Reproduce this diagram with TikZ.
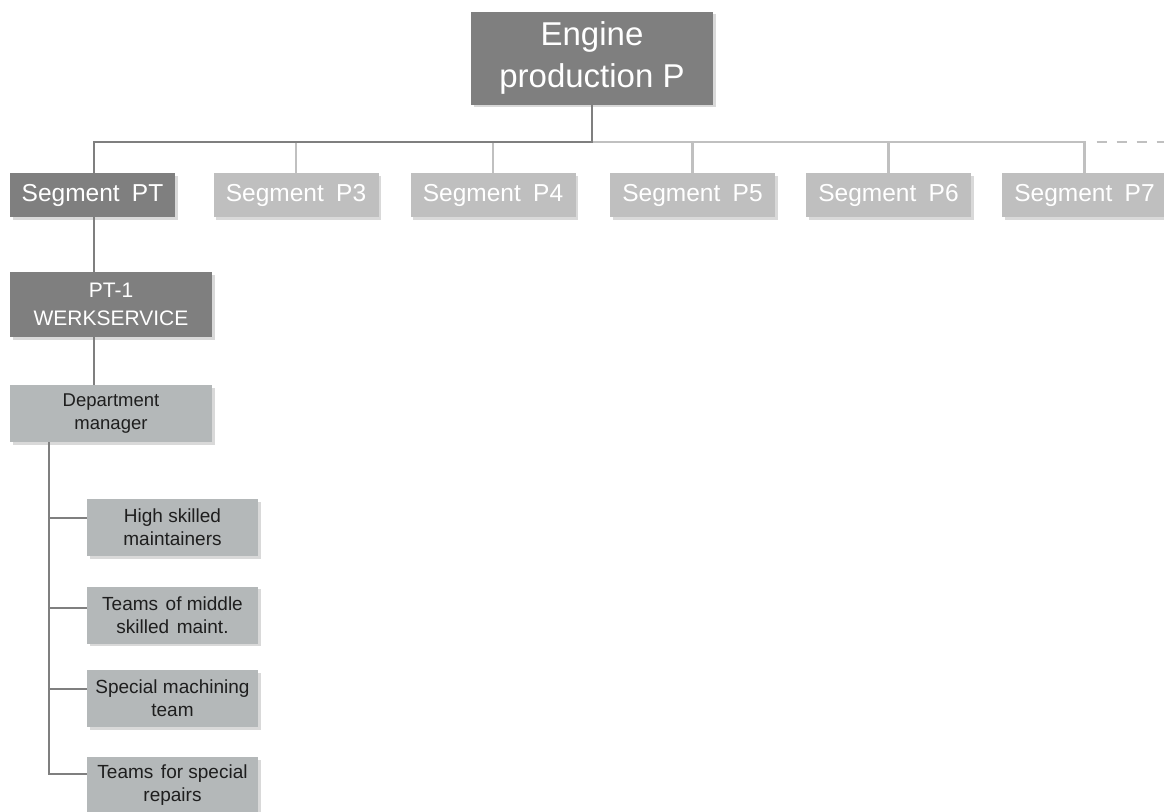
\documentclass[tikz,border=0pt]{standalone}
\usepackage{fontspec}
\setmainfont{Liberation Sans}
\usetikzlibrary{shadows}
\definecolor{boxdark}{HTML}{7F7F7F}
\definecolor{boxlight}{HTML}{BFBFBF}
\definecolor{boxteam}{HTML}{B4B8B9}
\definecolor{linedark}{HTML}{7F7F7F}
\definecolor{linelight}{HTML}{C0C0C0}
\definecolor{teamtext}{HTML}{1E1E1E}
\newcommand\wsp{\hspace{0.5em}}
\newcommand\tsp{\hspace{0.4em}}
\begin{document}
\begin{tikzpicture}[x=1pt,y=-1pt,
  box/.style={inner sep=0pt, align=center,
    drop shadow={shadow xshift=2.5pt, shadow yshift=-2.5pt, opacity=0.3}},
  topbox/.style={box, fill=boxdark, text=white, minimum width=242pt,
    minimum height=93pt, font=\fontsize{33}{42}\selectfont},
  segdark/.style={box, fill=boxdark, text=white, minimum width=165pt,
    minimum height=44pt, font=\fontsize{24.5}{28}\selectfont},
  seglight/.style={segdark, fill=boxlight},
  unitbox/.style={box, fill=boxdark, text=white, minimum width=202pt,
    minimum height=65pt, font=\fontsize{21}{28}\selectfont},
  mgrbox/.style={box, fill=boxteam, text=teamtext, minimum width=202pt,
    minimum height=57pt, font=\fontsize{18.5}{23}\selectfont},
  teambox/.style={box, fill=boxteam, text=teamtext, minimum width=171pt,
    minimum height=57pt, font=\fontsize{19}{23}\selectfont},
  darkline/.style={draw=linedark, line width=2.7pt},
  lightline/.style={draw=linelight, line width=2.7pt},
]
\clip (0,0) rectangle (1164,811);

% boxes
\node[topbox]   (top)  at (592,58)     {Engine\\production P};
\node[segdark]  (pt)   at (92.5,195)   {Segment\wsp PT};
\node[seglight] (p3)   at (296,195)    {Segment\wsp P3};
\node[seglight] (p4)   at (493,195)    {Segment\wsp P4};
\node[seglight] (p5)   at (692.5,195)  {Segment\wsp P5};
\node[seglight] (p6)   at (888.5,195)  {Segment\wsp P6};
\node[seglight] (p7)   at (1084.5,195) {Segment\wsp P7};
\node[unitbox]  (pt1)  at (111,304.5)  {PT-1\\WERKSERVICE};
\node[mgrbox]   (dept) at (111,413.5)  {Department\\manager};
\node[teambox]  (high)    at (172.5,527.5) {High skilled\\maintainers};
\node[teambox]  (middle)  at (172.5,615)   {Teams\tsp of middle\\skilled\tsp maint.};
\node[teambox]  (machine) at (172.5,698.5) {Special machining\\team};
\node[teambox]  (repairs) at (172.5,785.5) {Teams\tsp for special\\repairs};

% bus joining the segments
\coordinate (bus) at (592,142);
\coordinate (busend) at (1164,142);
\draw[lightline] (bus) -- (bus -| p7.north) -- (p7.north);
\foreach \s in {p3,p4,p5,p6}
  \draw[lightline] (\s.north) -- (\s.north |- bus);
\draw[lightline, dash pattern=on 10pt off 10pt] (bus -| p7.north) ++(12,0) -- (busend);
\draw[darkline] (top.south) -- (bus) -| ([xshift=1.5pt]pt.north);

% chain below Segment PT
\draw[darkline] ([xshift=1.5pt]pt.south) -- ([xshift=1.5pt]pt.south |- pt1.north);
\draw[darkline] ([xshift=1.5pt]pt.south |- pt1.south) -- ([xshift=1.5pt]pt.south |- dept.north);

% spine with the teams
\coordinate (bh) at (49,518);
\coordinate (bm) at (49,608);
\coordinate (bs) at (49,689);
\coordinate (br) at (49,774);
\draw[darkline] (dept.south -| br) -- (br) -- (br -| repairs.west);
\draw[darkline] (bh) -- (bh -| high.west);
\draw[darkline] (bm) -- (bm -| middle.west);
\draw[darkline] (bs) -- (bs -| machine.west);
\end{tikzpicture}
\end{document}
